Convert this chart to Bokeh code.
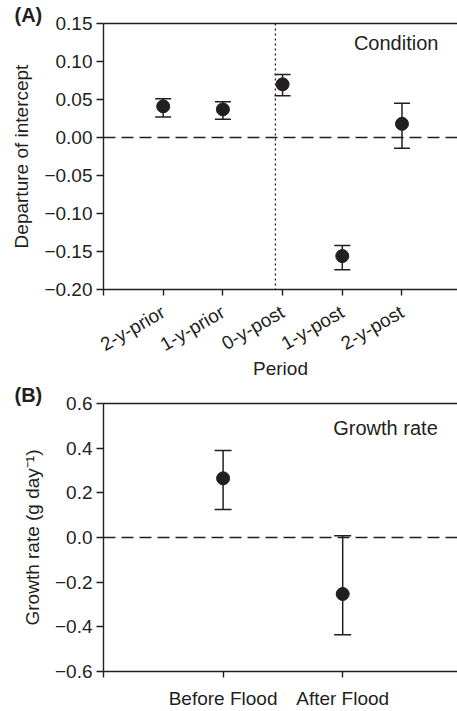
import math
from bokeh.plotting import figure
from bokeh.layouts import column
from bokeh.models import (Range1d, FixedTicker, LinearAxis, Span, Label,
                          CustomJSTickFormatter, ColumnDataSource)
from bokeh.embed import file_html
from bokeh.resources import INLINE

# ---------------- data ----------------
periods = ["2-y-prior", "1-y-prior", "0-y-post", "1-y-post", "2-y-post"]
cond_mean = [0.041, 0.037, 0.070, -0.156, 0.018]
cond_upper = [0.051, 0.047, 0.083, -0.142, 0.045]
cond_lower = [0.027, 0.024, 0.055, -0.174, -0.014]
cond_yticks = [-0.20, -0.15, -0.10, -0.05, 0.00, 0.05, 0.10, 0.15]

flood = ["Before Flood", "After Flood"]
growth_mean = [0.265, -0.253]
growth_upper = [0.390, 0.008]
growth_lower = [0.125, -0.435]
growth_yticks = [-0.6, -0.4, -0.2, 0.0, 0.2, 0.4, 0.6]

FONT = "Liberation Sans"
INK = "#231f20"
W = 457
LEFT = 103


def style_axis(ax, label_size="19px"):
    ax.axis_line_color = INK
    ax.axis_line_width = 1.4
    ax.major_tick_line_color = INK
    ax.major_tick_line_width = 1.4
    ax.major_tick_in = 0
    ax.major_tick_out = 7
    ax.minor_tick_line_color = None
    ax.major_label_text_font = FONT
    ax.major_label_text_font_size = label_size
    ax.major_label_text_color = INK
    ax.axis_label_text_font = FONT
    ax.axis_label_text_font_size = "19px"
    ax.axis_label_text_font_style = "normal"
    ax.axis_label_text_color = INK


def fmt(decimals):
    return CustomJSTickFormatter(code=f"""
        const s = Math.abs(tick).toFixed({decimals});
        return (tick < -1e-9 ? '\\u2212' : '') + s;
    """)


def top_line(p):
    ax = LinearAxis(ticker=FixedTicker(ticks=[]))
    ax.axis_line_color = INK
    ax.axis_line_width = 1.4
    ax.major_tick_line_color = None
    ax.major_tick_out = 0
    ax.major_tick_in = 0
    ax.minor_tick_line_color = None
    ax.minor_tick_out = 0
    ax.major_label_text_font_size = "0px"
    ax.major_label_standoff = 0
    p.add_layout(ax, "above")


def errorbars(p, xs, mean, lo, hi, cap):
    src = ColumnDataSource(dict(x=xs, m=mean, lo=lo, hi=hi))
    p.segment(x0="x", y0="lo", x1="x", y1="hi", source=src,
              line_color=INK, line_width=1.5)
    p.scatter(x="x", y="lo", source=src, marker="dash", size=cap,
              line_color=INK, line_width=1.5)
    p.scatter(x="x", y="hi", source=src, marker="dash", size=cap,
              line_color=INK, line_width=1.5)
    p.scatter(x="x", y="m", source=src, marker="circle", size=13,
              fill_color=INK, line_color=INK)


def panel_tag(p, text):
    p.title.text = text
    p.title.align = "left"
    p.title.offset = 14 - LEFT
    p.title.standoff = -4
    p.title.vertical_align = "bottom"
    p.title.text_font = FONT
    p.title.text_font_style = "bold"
    p.title.text_font_size = "20px"
    p.title.text_color = INK


# ---------------- panel A ----------------
HA, TA, BA = 382, 23, 91
pa = figure(width=W, height=HA, output_backend="svg", toolbar_location=None,
            x_range=Range1d(0, 5.93), y_range=Range1d(-0.20, 0.15),
            min_border_left=LEFT, min_border_right=0, min_border_top=TA,
            min_border_bottom=BA)
pa.outline_line_color = None
pa.grid.visible = False

xa = list(range(1, len(periods) + 1))
ya = pa.left[0]
style_axis(ya)
ya.ticker = FixedTicker(ticks=cond_yticks)
ya.formatter = fmt(2)
ya.major_label_standoff = 4
ya.axis_label = "Departure of intercept"
ya.axis_label_standoff = 9

xa_ax = pa.below[0]
style_axis(xa_ax)
xa_ax.major_tick_out = 6
xa_ax.ticker = FixedTicker(ticks=[0] + xa)
xa_ax.major_label_overrides = {0: "", **{i: n for i, n in zip(xa, periods)}}
xa_ax.major_label_orientation = math.pi / 6
xa_ax.major_label_standoff = 15
xa_ax.axis_label = "Period"
xa_ax.axis_label_standoff = -9
top_line(pa)

pa.add_layout(Span(location=0, dimension="width", line_color=INK,
                   line_width=1.3, line_dash="12 6"))
pa.add_layout(Span(location=2.88, dimension="height", line_color=INK,
                   line_width=1.3, line_dash="2 3"))
errorbars(pa, xa, cond_mean, cond_lower, cond_upper, 16)
pa.add_layout(Label(x=5.61, y=0.1245, text="Condition", text_align="right",
                    text_baseline="middle", text_font=FONT,
                    text_font_size="20px", text_color=INK))
panel_tag(pa, "(A)")

# ---------------- panel B ----------------
HB, TB, BB = 329, 21, 40
pb = figure(width=W, height=HB, output_backend="svg", toolbar_location=None,
            x_range=Range1d(0, 2.96), y_range=Range1d(-0.6, 0.6),
            min_border_left=LEFT, min_border_right=0, min_border_top=TB,
            min_border_bottom=BB)
pb.outline_line_color = None
pb.grid.visible = False

xb = list(range(1, len(flood) + 1))
yb = pb.left[0]
style_axis(yb)
yb.ticker = FixedTicker(ticks=growth_yticks)
yb.formatter = fmt(1)
yb.major_label_standoff = 4
yb.axis_label = "Growth rate (g day\u207b\u00b9)"
yb.axis_label_standoff = 9

xb_ax = pb.below[0]
style_axis(xb_ax)
xb_ax.major_tick_out = 6
xb_ax.ticker = FixedTicker(ticks=[0] + xb)
xb_ax.major_label_overrides = {0: "", **{i: n for i, n in zip(xb, flood)}}
xb_ax.major_label_standoff = 10
top_line(pb)

pb.add_layout(Span(location=0, dimension="width", line_color=INK,
                   line_width=1.3, line_dash="12 6"))
errorbars(pb, xb, growth_mean, growth_lower, growth_upper, 17)
pb.add_layout(Label(x=2.795, y=0.49, text="Growth rate", text_align="right",
                    text_baseline="middle", text_font=FONT,
                    text_font_size="20px", text_color=INK))
panel_tag(pb, "(B)")

layout = column(pa, pb, spacing=0)
open("out.html", "w").write(file_html(layout, INLINE))
